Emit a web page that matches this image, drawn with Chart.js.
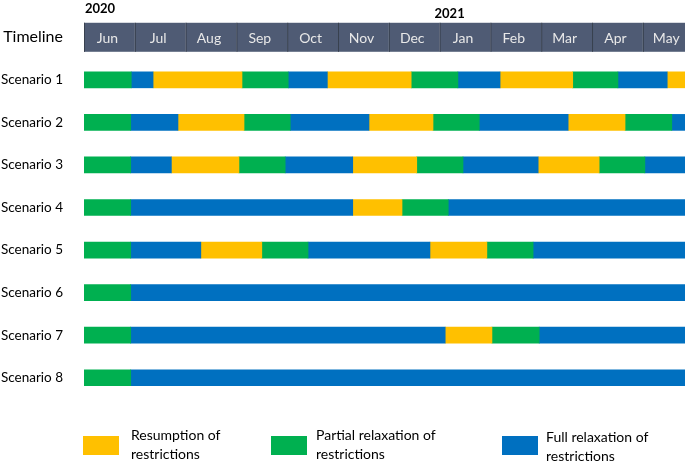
<!DOCTYPE html>
<html>
<head>
<meta charset="utf-8">
<script src="https://cdn.jsdelivr.net/npm/chart.js@4"></script>
<style>
  body { margin: 0; background: #fff; font-family: Lato, sans-serif; }
  .wrap { position: relative; width: 685px; height: 466px; }
  .legend-box { position: absolute; width: 36px; height: 19px; }
  .legend-text { position: absolute; font-size: 14px; line-height: 19px; color: #000; }
</style>
</head>
<body>
<div class="wrap">
  <canvas id="timelineChart" width="685" height="466"></canvas>
  <div class="legend-box" style="left:83px;top:436px;background:#FFC000"></div>
  <div class="legend-text" style="left:131px;top:425px">Resumption of<br>restrictions</div>
  <div class="legend-box" style="left:271px;top:436px;background:#00B050"></div>
  <div class="legend-text" style="left:316px;top:425px">Partial relaxation of<br>restrictions</div>
  <div class="legend-box" style="left:502px;top:436px;background:#0070C0"></div>
  <div class="legend-text" style="left:546px;top:427px">Full relaxation of<br>restrictions</div>
</div>
<script>
// rows and header
const rowLabels = ['Timeline', 'Scenario 1', 'Scenario 2', 'Scenario 3', 'Scenario 4',
                   'Scenario 5', 'Scenario 6', 'Scenario 7', 'Scenario 8']
const months = ['Jun', 'Jul', 'Aug', 'Sep', 'Oct', 'Nov', 'Dec', 'Jan', 'Feb', 'Mar', 'Apr', 'May']
const years = ['2020', '2021']
const yearStart = [0, 6.9]   // month position where each year label sits

// phases: R = resumption, P = partial relaxation, F = full relaxation
// ends = month (from 1 June 2020) where each phase stops
const s1Phases = ['P', 'F', 'R', 'P', 'F', 'R', 'P', 'F', 'R', 'P', 'F', 'R']
const s1Ends = [0.93, 1.36, 3.11, 4.02, 4.79, 6.44, 7.36, 8.19, 9.62, 10.51, 11.48, 12]
const s2Phases = ['P', 'F', 'R', 'P', 'F', 'R', 'P', 'F', 'R', 'P', 'F']
const s2Ends = [0.92, 1.85, 3.15, 4.06, 5.61, 6.87, 7.78, 9.53, 10.65, 11.57, 12]
const s3Phases = ['P', 'F', 'R', 'P', 'F', 'R', 'P', 'F', 'R', 'P', 'F']
const s3Ends = [0.92, 1.72, 3.05, 3.96, 5.29, 6.55, 7.46, 8.94, 10.14, 11.04, 12]
const s4Phases = ['P', 'F', 'R', 'P', 'F']
const s4Ends = [0.92, 5.29, 6.26, 7.17, 12]
const s5Phases = ['P', 'F', 'R', 'P', 'F', 'R', 'P', 'F']
const s5Ends = [0.92, 2.30, 3.50, 4.41, 6.81, 7.93, 8.84, 12]
const s6Phases = ['P', 'F']
const s6Ends = [0.92, 12]
const s7Phases = ['P', 'F', 'R', 'P', 'F']
const s7Ends = [0.92, 7.11, 8.03, 8.96, 12]
const s8Phases = ['P', 'F']
const s8Ends = [0.92, 12]

const phaseColors = { R: '#FFC000', P: '#00B050', F: '#0070C0' }

const allPhases = [s1Phases, s2Phases, s3Phases, s4Phases, s5Phases, s6Phases, s7Phases, s8Phases]
const allEnds = [s1Ends, s2Ends, s3Ends, s4Ends, s5Ends, s6Ends, s7Ends, s8Ends]

// one dataset per segment position, floating bars [start, end]
const maxSegs = Math.max(...allEnds.map(e => e.length))
const datasets = []
for (let k = 0; k < maxSegs; k++) {
    const data = [null]
    allEnds.forEach(ends => {
        if (k < ends.length) {
            data.push([k === 0 ? 0 : ends[k - 1], ends[k]])
        } else {
            data.push(null)
        }
    })
    datasets.push({
        data: data,
        grouped: false,
        barThickness: 16,
        borderWidth: 0,
        backgroundColor: (ctx) => {
            const p = allPhases[ctx.dataIndex - 1]
            return p ? phaseColors[p[k]] : 'transparent'
        }
    })
}

// header row: month boxes drawn on the x scale
const headerPlugin = {
    id: 'header',
    beforeDatasetsDraw(chart) {
        const { ctx, scales: { x, y } } = chart
        const yc = y.getPixelForValue(0)
        const h = 29
        ctx.save()
        months.forEach((m, i) => {
            const x0 = x.getPixelForValue(i)
            const x1 = x.getPixelForValue(i + 1)
            ctx.fillStyle = '#4F5B74'
            ctx.fillRect(x0, yc - h / 2, x1 - x0, h)
            ctx.fillStyle = '#38414F'
            ctx.fillRect(x0, yc - h / 2, 1, h)
            ctx.fillStyle = '#E8E8E8'
            ctx.font = '14px Lato'
            ctx.textAlign = 'center'
            ctx.textBaseline = 'middle'
            ctx.fillText(m, (x0 + x1) / 2 - 2, yc + 1)
        })
        ctx.fillStyle = '#000'
        ctx.font = 'bold 13px Lato'
        ctx.textAlign = 'left'
        ctx.fillText(years[0], x.getPixelForValue(yearStart[0]) + 1, 9)
        ctx.fillText(years[1], x.getPixelForValue(yearStart[1]), 14)
        ctx.restore()
    }
}

new Chart(document.getElementById('timelineChart'), {
    type: 'bar',
    data: { labels: rowLabels, datasets: datasets },
    options: {
        indexAxis: 'y',
        responsive: false,
        animation: false,
        layout: { padding: { top: 16, bottom: 67, left: 0, right: 0 } },
        scales: {
            x: { type: 'linear', min: 0, max: 11.83, display: false },
            y: {
                grid: { display: false },
                border: { display: false },
                ticks: {
                    color: '#000',
                    font: (c) => ({ family: 'Lato', size: c.index === 0 ? 16 : 13.5 }),
                    padding: 13
                },
                afterFit: (scale) => {
                    scale.width = 84
                    scale.paddingTop = 0
                    scale.paddingBottom = 0
                }
            }
        },
        plugins: { legend: { display: false }, tooltip: { enabled: false } }
    },
    plugins: [headerPlugin]
})
</script>
</body>
</html>
